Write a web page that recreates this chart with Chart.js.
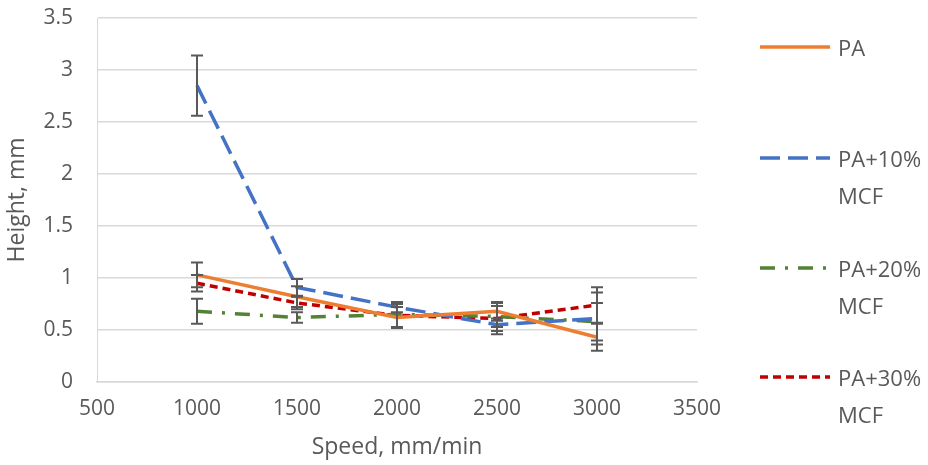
<!DOCTYPE html>
<html>
<head>
<meta charset="utf-8">
<script src="https://cdn.jsdelivr.net/npm/chart.js@4"></script>
<style>
  body { margin: 0; background: #fff; }
  #wrap { position: relative; width: 928px; height: 465px; }
  #legend { position: absolute; left: 760px; top: 0; font-family: "Open Sans", sans-serif; font-size: 22px; color: #595959; }
  .item { position: absolute; left: 0; width: 170px; }
  .item svg { position: absolute; left: 0; top: 0; }
  .item .lbl { position: absolute; left: 78px; top: -18px; line-height: 37px; white-space: nowrap; }
</style>
</head>
<body>
<div id="wrap">
  <canvas id="chart" width="928" height="465"></canvas>
  <div id="legend"></div>
</div>
<script>
const speeds = [1000, 1500, 2000, 2500, 3000];
const seriesNames = ['PA', 'PA+10%\nMCF', 'PA+20%\nMCF', 'PA+30%\nMCF'];
const paVals = [1.03, 0.82, 0.62, 0.68, 0.43];
const pa10Vals = [2.85, 0.91, 0.72, 0.55, 0.61];
const pa20Vals = [0.68, 0.62, 0.65, 0.63, 0.58];
const pa30Vals = [0.95, 0.76, 0.64, 0.61, 0.74];
const paErr = [0.12, 0.10, 0.10, 0.09, 0.13];
const pa10Err = [0.29, 0.08, 0.05, 0.06, 0.25];
const pa20Err = [0.12, 0.05, 0.12, 0.10, 0.18];
const pa30Err = [0.08, 0.06, 0.11, 0.15, 0.17];
const xTicks = [500, 1000, 1500, 2000, 2500, 3000, 3500];
const yTicks = [0, 0.5, 1, 1.5, 2, 2.5, 3, 3.5];

const colors = ['#ED7D31', '#4472C4', '#548235', '#C00000'];
const dashes = [[], [20, 8], [15, 10, 3, 10], [8, 5]];
const allVals = [paVals, pa10Vals, pa20Vals, pa30Vals];
const allErr = [paErr, pa10Err, pa20Err, pa30Err];

const datasets = allVals.map((vals, i) => ({
  label: seriesNames[i],
  data: speeds.map((s, j) => ({x: s, y: vals[j]})),
  errors: allErr[i],
  borderColor: colors[i],
  backgroundColor: colors[i],
  borderWidth: 3.5,
  borderDash: dashes[i],
  pointRadius: 0,
  showLine: true,
  fill: false,
  tension: 0
}));

// error bars drawn on top of the lines, using the chart scales
const errorBars = {
  id: 'errorBars',
  afterDatasetsDraw(chart) {
    const ctx = chart.ctx;
    const xs = chart.scales.x, ys = chart.scales.y;
    ctx.save();
    ctx.strokeStyle = '#595959';
    ctx.lineWidth = 2;
    chart.data.datasets.forEach(ds => {
      ds.data.forEach((p, j) => {
        const e = ds.errors[j];
        const x = xs.getPixelForValue(p.x);
        const yt = ys.getPixelForValue(p.y + e);
        const yb = ys.getPixelForValue(p.y - e);
        ctx.beginPath();
        ctx.moveTo(x, yt); ctx.lineTo(x, yb);
        ctx.moveTo(x - 6, yt); ctx.lineTo(x + 6, yt);
        ctx.moveTo(x - 6, yb); ctx.lineTo(x + 6, yb);
        ctx.stroke();
      });
    });
    ctx.restore();
  }
};

const tickFont = {family: '"Open Sans", sans-serif', size: 21};
const titleFont = {family: '"Open Sans", sans-serif', size: 23};

new Chart(document.getElementById('chart'), {
  type: 'scatter',
  data: {datasets: datasets},
  options: {
    responsive: false,
    animation: false,
    layout: {padding: {top: 18, right: 231, left: 0, bottom: 0}},
    plugins: {legend: {display: false}, tooltip: {enabled: false}},
    scales: {
      x: {
        type: 'linear',
        min: xTicks[0], max: xTicks[xTicks.length - 1],
        afterBuildTicks: s => { s.ticks = xTicks.map(v => ({value: v})); },
        afterFit: s => { s.height = 83; s.paddingLeft = 0; s.paddingRight = 0; },
        grid: {display: false, drawTicks: false},
        border: {display: true, color: '#D9D9D9', width: 1.5},
        ticks: {color: '#595959', font: tickFont, padding: 14, callback: v => String(v)},
        title: {display: true, text: 'Speed, mm/min', color: '#595959', font: titleFont, padding: {top: 0}}
      },
      y: {
        min: 0, max: 3.5,
        afterBuildTicks: s => { s.ticks = yTicks.map(v => ({value: v})); },
        afterFit: s => { s.width = 97; s.paddingTop = 0; s.paddingBottom = 0; },
        grid: {color: '#D9D9D9', lineWidth: 1.5, drawTicks: false},
        border: {display: true, color: '#D9D9D9', width: 1},
        ticks: {color: '#595959', font: tickFont, padding: 24, callback: v => String(v)},
        title: {display: true, text: 'Height, mm', color: '#595959', font: titleFont, padding: {bottom: 2}}
      }
    }
  },
  plugins: [errorBars]
});

// legend built from the series names
const legendTops = [47, 158, 268, 377];
const legend = document.getElementById('legend');
seriesNames.forEach((name, i) => {
  const item = document.createElement('div');
  item.className = 'item';
  item.style.top = legendTops[i] + 'px';
  const dash = dashes[i].length ? 'stroke-dasharray="' + dashes[i].join(' ') + '"' : '';
  item.innerHTML = '<svg width="72" height="4" style="top:-2px"><line x1="0" y1="2" x2="70" y2="2" stroke="' + colors[i] + '" stroke-width="3.5" ' + dash + '/></svg>' +
    '<div class="lbl">' + name.replace('\n', '<br>') + '</div>';
  legend.appendChild(item);
});
</script>
</body>
</html>
